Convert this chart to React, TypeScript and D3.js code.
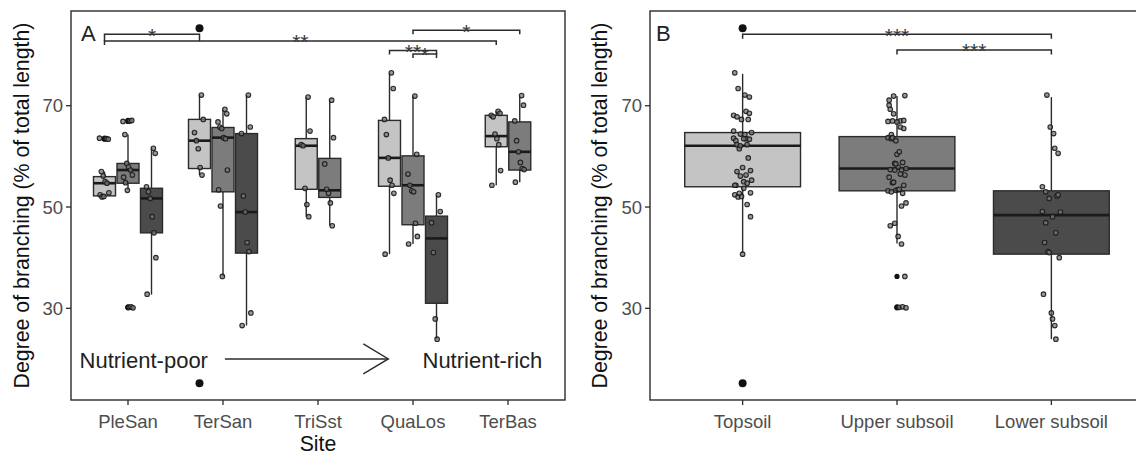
import React from 'react';
import * as d3 from 'd3';

// categories
const sites = ['PleSan', 'TerSan', 'TriSst', 'QuaLos', 'TerBas'];
const depths = ['Topsoil', 'Upper subsoil', 'Lower subsoil'];
const depthFill = ['#c4c4c4', '#7c7c7c', '#4b4b4b'];

// depth layers sampled at each site (index into depths)
const siteDepths = [[0, 1, 2], [0, 1, 2], [0, 1], [0, 1, 2], [0, 1]];

// box stats: [lower whisker, Q1, median, Q3, upper whisker]
const pleSanBoxes = [[52.0, 52.2, 54.7, 56.0, 57.0], [53.3, 54.7, 57.3, 58.6, 64.3], [32.7, 44.9, 51.7, 53.7, 61.6]];
const terSanBoxes = [[56.3, 57.6, 63.1, 67.3, 72.1], [36.3, 53.0, 63.7, 65.7, 69.3], [26.6, 40.9, 49.0, 64.5, 72.1]];
const triSstBoxes = [[48.1, 53.5, 62.1, 63.5, 71.7], [46.3, 51.9, 53.3, 59.6, 71.1]];
const quaLosBoxes = [[40.7, 54.1, 59.7, 67.1, 76.5], [42.7, 46.5, 54.3, 60.1, 71.9], [23.9, 31.0, 43.8, 48.2, 52.4]];
const terBasBoxes = [[54.3, 61.9, 64.0, 68.1, 68.9], [54.9, 57.3, 60.9, 66.8, 71.8]];

// individual roots (degree of branching, %)
const pleSanPoints = [
  [63.5, 63.4, 63.6, 57.0, 56.1, 55.0, 54.7, 52.8, 52.4, 52.0, 52.1],
  [67.0, 67.1, 66.9, 64.3, 58.6, 57.9, 57.3, 56.3, 55.9, 54.8, 53.3, 30.2, 30.3, 30.1],
  [61.6, 60.6, 54.0, 53.0, 51.7, 48.1, 44.9, 40.0, 32.8],
];
const terSanPoints = [
  [72.1, 67.3, 64.7, 63.1, 61.5, 57.8, 56.3],
  [69.3, 68.4, 66.8, 65.8, 65.5, 63.7, 63.5, 57.3, 53.4, 50.2, 36.3],
  [72.1, 65.8, 64.5, 52.2, 49.0, 43.0, 41.2, 29.1, 26.6],
];
const triSstPoints = [
  [71.7, 65.0, 62.3, 62.1, 53.7, 50.5, 48.1],
  [71.1, 63.7, 58.5, 53.5, 52.7, 50.8, 46.3],
];
const quaLosPoints = [
  [76.5, 73.4, 67.3, 64.3, 59.7, 55.3, 54.3, 52.7, 40.7],
  [71.9, 60.4, 56.5, 54.3, 53.2, 53.0, 46.8, 44.2, 42.7],
  [52.4, 49.1, 46.9, 41.0, 27.9, 23.9],
];
const terBasPoints = [
  [68.9, 68.5, 68.1, 67.8, 64.4, 63.5, 62.3, 57.2, 54.3],
  [72.0, 70.1, 67.0, 63.1, 60.9, 58.8, 57.6, 57.4, 54.9],
];

const siteBoxes = [pleSanBoxes, terSanBoxes, triSstBoxes, quaLosBoxes, terBasBoxes];
const sitePoints = [pleSanPoints, terSanPoints, triSstPoints, quaLosPoints, terBasPoints];

// panel B: all sites pooled per depth
const depthBoxes = [[40.9, 54.0, 62.1, 64.7, 76.3], [42.8, 53.2, 57.6, 63.9, 71.9], [23.9, 40.7, 48.4, 53.2, 71.7]];

// significance brackets: [site, depth] pairs
const bracketsA = [
  { from: [0, 0], to: [1, 0], y: 84.1, label: '*' },
  { from: [0, 0], to: [4, 0], y: 82.8, label: '**' },
  { from: [3, 1], to: [4, 1], y: 84.9, label: '*' },
  { from: [3, 0], to: [3, 2], y: 80.9, label: '**' },
  { from: [3, 1], to: [3, 2], y: 80.2, label: '*' },
];
const bracketsB = [
  { from: 0, to: 2, y: 84.1, label: '***' },
  { from: 1, to: 2, y: 81.0, label: '***' },
];
const limitDots = [85.3, 15.2];
const yTicks = [30, 50, 70];

const W = 1136;
const H = 456;
const top = 11;
const bottom = 400;
const aLeft = 71;
const aRight = 565;
const bLeft = 650;
const bRight = 1144;
const font = 'Liberation Sans, Arial, sans-serif';
const ink = '#2b2b2b';

const y = d3.scaleLinear().domain([11.9, 88.7]).range([bottom, top]);
const xA = d3.scalePoint<string>().domain(sites).range([aLeft, aRight]).padding(0.6);
const xB = d3.scalePoint<string>().domain(depths).range([bLeft, bRight]).padding(0.6);
const slot = 23.5;

const dodge = (s: number, d: number) => {
  const present = siteDepths[s].map(String);
  const inner = d3.scaleBand().domain(present)
    .range([-slot * present.length / 2, slot * present.length / 2]);
  return xA(sites[s])! + inner(String(d))! + inner.bandwidth() / 2;
};

// deterministic spread for the jittered points
const jitter = (i: number, w: number) => ((((i * 37 + 11) % 17) / 16) - 0.5) * 2 * w;

const Box = ({ cx, w, stats, fill, points, spread }) => {
  const [lo, q1, med, q3, hi] = stats;
  const outliers = points.filter(v => v < lo - 0.5 || v > hi + 0.5);
  return (
    <g>
      <line x1={cx} x2={cx} y1={y(hi)} y2={y(q3)} stroke={ink} strokeWidth={1.4} />
      <line x1={cx} x2={cx} y1={y(q1)} y2={y(lo)} stroke={ink} strokeWidth={1.4} />
      <rect x={cx - w / 2} y={y(q3)} width={w} height={y(q1) - y(q3)} fill={fill} stroke={ink} strokeWidth={1.4} />
      <line x1={cx - w / 2} x2={cx + w / 2} y1={y(med)} y2={y(med)} stroke="#1a1a1a" strokeWidth={2.6} />
      {outliers.map((v, i) => <circle key={'o' + i} cx={cx} cy={y(v)} r={2.6} fill="#111" />)}
      {points.map((v, i) => (
        <circle key={i} cx={cx + jitter(i, spread)} cy={y(v)} r={2.3}
          fill="#777" fillOpacity={0.75} stroke="#1a1a1a" strokeWidth={1.1} strokeOpacity={0.9} />
      ))}
    </g>
  );
};

const Bracket = ({ x1, x2, yv, label, tip = 5 }) => {
  const yy = y(yv);
  return (
    <g>
      <path d={`M${x1},${yy + tip}V${yy}H${x2}V${yy + tip}`} fill="none" stroke={ink} strokeWidth={1.5} />
      <text x={(x1 + x2) / 2} y={yy + 8.4} textAnchor="middle" fontSize={21} fill="#3a3a3a" fontFamily={font}>{label}</text>
    </g>
  );
};

const YAxis = ({ x0, titleX }) => (
  <g fontFamily={font}>
    {yTicks.map(t => (
      <g key={t}>
        <line x1={x0 - 5} x2={x0} y1={y(t)} y2={y(t)} stroke={ink} strokeWidth={1.3} />
        <text x={x0 - 8} y={y(t)} dy="0.36em" textAnchor="end" fontSize={18.5} fill="#4d4d4d">{t}</text>
      </g>
    ))}
    <text transform={`translate(${titleX},${(top + bottom) / 2}) rotate(-90)`} textAnchor="middle" fontSize={21.3} fill="#111">
      Degree of branching (% of total length)
    </text>
  </g>
);

export default function App() {
  const step = xA.step();
  const annX = (u: number) => xA(sites[0])! + (u - 1) * step;
  const arrowY = y(20);
  const arrowEnd = annX(3.74);

  const depthPoints = depths.map((_, d) =>
    sitePoints.flatMap((pts, s) => {
      const k = siteDepths[s].indexOf(d);
      return k < 0 ? [] : pts[k];
    }));

  return (
    <div style={{ position: 'fixed', left: 0, top: 0, width: W, height: H, background: '#fff' }}>
      <svg width={W} height={H} style={{ display: 'block' }}>
        {/* Panel A */}
        <rect x={aLeft} y={top} width={aRight - aLeft} height={bottom - top} fill="none" stroke={ink} strokeWidth={1.4} />
        {sites.map((site, s) => siteDepths[s].map((d, k) => (
          <Box key={site + d} cx={dodge(s, d)} w={22} stats={siteBoxes[s][k]} fill={depthFill[d]}
            points={sitePoints[s][k]} spread={5} />
        )))}
        {limitDots.map(v => <circle key={'a' + v} cx={dodge(1, 0)} cy={y(v)} r={4} fill="#111" />)}
        {bracketsA.map((b, i) => (
          <Bracket key={i} x1={dodge(b.from[0], b.from[1])} x2={dodge(b.to[0], b.to[1])} yv={b.y} label={b.label} tip={i === 0 ? 7 : 4} />
        ))}
        <line x1={annX(2.02)} x2={arrowEnd} y1={arrowY} y2={arrowY} stroke={ink} strokeWidth={1.4} />
        <path d={`M${arrowEnd - 25},${arrowY - 15}L${arrowEnd},${arrowY}L${arrowEnd - 25},${arrowY + 15}`} fill="none" stroke={ink} strokeWidth={1.4} />
        <text x={annX(0.49)} y={arrowY + 9} fontSize={22} fill="#222" fontFamily={font}>Nutrient-poor</text>
        <text x={annX(4.1)} y={arrowY + 9} fontSize={22} fill="#222" fontFamily={font}>Nutrient-rich</text>
        <text x={81} y={40.5} fontSize={22} fill="#222" fontFamily={font}>A</text>
        {sites.map(s => (
          <g key={s}>
            <line x1={xA(s)} x2={xA(s)} y1={bottom} y2={bottom + 5} stroke={ink} strokeWidth={1.3} />
            <text x={xA(s)} y={428} textAnchor="middle" fontSize={18.5} fill="#4d4d4d" fontFamily={font}>{s}</text>
          </g>
        ))}
        <text x={(aLeft + aRight) / 2} y={451} textAnchor="middle" fontSize={21.3} fill="#111" fontFamily={font}>Site</text>
        <YAxis x0={aLeft} titleX={29} />

        {/* Panel B */}
        <rect x={bLeft} y={top} width={bRight - bLeft} height={bottom - top} fill="none" stroke={ink} strokeWidth={1.4} />
        {depths.map((d, i) => (
          <Box key={d} cx={xB(d)} w={xB.step() * 0.75} stats={depthBoxes[i]} fill={depthFill[i]}
            points={depthPoints[i]} spread={9} />
        ))}
        {limitDots.map(v => <circle key={'b' + v} cx={xB(depths[0])} cy={y(v)} r={4} fill="#111" />)}
        {bracketsB.map((b, i) => (
          <Bracket key={i} x1={xB(depths[b.from])} x2={xB(depths[b.to])} yv={b.y} label={b.label} tip={4.5} />
        ))}
        <text x={656} y={40.5} fontSize={22} fill="#222" fontFamily={font}>B</text>
        {depths.map(d => (
          <g key={d}>
            <line x1={xB(d)} x2={xB(d)} y1={bottom} y2={bottom + 5} stroke={ink} strokeWidth={1.3} />
            <text x={xB(d)} y={428} textAnchor="middle" fontSize={18.5} fill="#4d4d4d" fontFamily={font}>{d}</text>
          </g>
        ))}
        <YAxis x0={bLeft} titleX={607} />
      </svg>
    </div>
  );
}
